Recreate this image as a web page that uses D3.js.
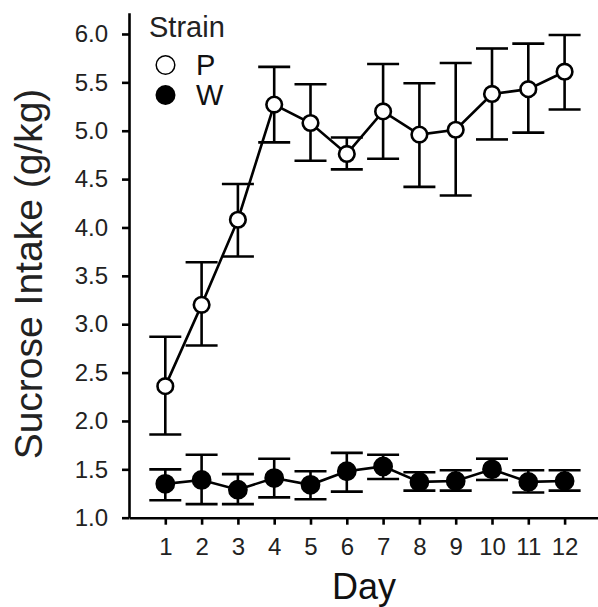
<!DOCTYPE html>
<html>
<head>
<meta charset="utf-8">
<script src="https://cdn.jsdelivr.net/npm/d3@7"></script>
<style>
  body { margin: 0; background: #fff; }
  svg { display: block; font-family: "Liberation Sans", Arial, sans-serif; }
</style>
</head>
<body>
<svg id="chart" width="598" height="607"></svg>
<script>
const days = [1,2,3,4,5,6,7,8,9,10,11,12];
const yTicks = [1.0,1.5,2.0,2.5,3.0,3.5,4.0,4.5,5.0,5.5,6.0];
const pMean  = [2.36,3.20,4.08,5.27,5.08,4.76,5.20,4.96,5.01,5.38,5.43,5.61];
const pUpper = [2.87,3.64,4.45,5.66,5.48,4.93,5.69,5.49,5.70,5.85,5.90,5.99];
const pLower = [1.86,2.78,3.70,4.88,4.69,4.60,4.71,4.42,4.33,4.91,4.98,5.22];
const wMean  = [1.35,1.39,1.29,1.41,1.34,1.48,1.53,1.37,1.38,1.50,1.37,1.38];
const wUpper = [1.50,1.65,1.45,1.61,1.48,1.67,1.65,1.47,1.49,1.61,1.49,1.49];
const wLower = [1.18,1.14,1.14,1.21,1.19,1.27,1.40,1.28,1.28,1.39,1.26,1.28];
const seriesNames = ["P","W"];

const svg = d3.select("#chart");
const x = d3.scaleLinear().domain([0, 13]).range([129, 129 + 13*36.3]);
const y = d3.scaleLinear().domain([1, 6.22]).range([517.7, 12.7]);

const lw = 2.6;

// axes
const gy = svg.append("g").attr("transform", "translate(129,0)")
  .call(d3.axisLeft(y).tickValues(yTicks).tickFormat(d3.format(".1f")).tickSize(7).tickSizeOuter(0).tickPadding(14));
const gx = svg.append("g").attr("transform", "translate(0,517.7)")
  .call(d3.axisBottom(x).tickValues(days).tickFormat(d3.format("d")).tickSize(7).tickSizeOuter(0).tickPadding(13));
[gx, gy].forEach(g => {
  g.select(".domain").attr("stroke", "#000").attr("stroke-width", lw);
  g.selectAll(".tick line").attr("stroke", "#000").attr("stroke-width", lw);
  g.selectAll(".tick text").attr("fill", "#222").style("font-size", "24px").style("font-family", "'Liberation Sans', Arial, sans-serif");
});

// titles
svg.append("text").attr("transform", "translate(41.5,274) rotate(-90)")
  .attr("text-anchor", "middle").style("font-size", "39px").attr("fill", "#222")
  .text("Sucrose Intake (g/kg)");
svg.append("text").attr("x", 364).attr("y", 599)
  .attr("text-anchor", "middle").style("font-size", "36px").attr("fill", "#111")
  .text("Day");

function drawSeries(mean, upper, lower, fill) {
  const g = svg.append("g");
  const cap = 16;
  days.forEach((d, i) => {
    g.append("line").attr("x1", x(d)).attr("x2", x(d)).attr("y1", y(lower[i])).attr("y2", y(upper[i]))
      .attr("stroke", "#000").attr("stroke-width", lw);
    g.append("line").attr("x1", x(d)-cap).attr("x2", x(d)+cap).attr("y1", y(upper[i])).attr("y2", y(upper[i]))
      .attr("stroke", "#000").attr("stroke-width", lw);
    g.append("line").attr("x1", x(d)-cap).attr("x2", x(d)+cap).attr("y1", y(lower[i])).attr("y2", y(lower[i]))
      .attr("stroke", "#000").attr("stroke-width", lw);
  });
  const line = d3.line().x((d, i) => x(days[i])).y(d => y(d));
  g.append("path").datum(mean).attr("d", line).attr("fill", "none").attr("stroke", "#000").attr("stroke-width", lw);
  g.selectAll("circle").data(mean).join("circle")
    .attr("cx", (d, i) => x(days[i])).attr("cy", d => y(d)).attr("r", fill === "#fff" ? 7.8 : 8.6)
    .attr("fill", fill).attr("stroke", "#000").attr("stroke-width", lw);
}
drawSeries(pMean, pUpper, pLower, "#fff");
drawSeries(wMean, wUpper, wLower, "#000");

// legend
const lg = svg.append("g");
lg.append("text").attr("x", 149).attr("y", 36.5).style("font-size", "29px").attr("fill", "#222").text("Strain");
seriesNames.forEach((n, i) => {
  const cy = 65 + i*30;
  lg.append("circle").attr("cx", 165.5).attr("cy", cy).attr("r", i === 0 ? 9.3 : 10)
    .attr("fill", i === 0 ? "#fff" : "#000").attr("stroke", "#000").attr("stroke-width", i === 0 ? 1.5 : 0);
  lg.append("text").attr("x", 196).attr("y", cy + 10).style("font-size", "29px").attr("fill", "#111").text(n);
});
</script>
</body>
</html>
